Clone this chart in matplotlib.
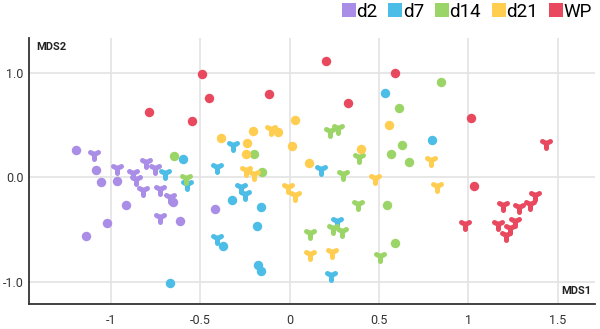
import matplotlib
matplotlib.use("Agg")
import matplotlib.pyplot as plt
from matplotlib.markers import MarkerStyle
from matplotlib.lines import Line2D

plt.rcParams['font.family'] = ['Roboto', 'DejaVu Sans']

groups = ["d2", "d7", "d14", "d21", "WP"]
colors = ["#a98de6", "#4cbde6", "#9cd567", "#ffcd50", "#e8495e"]

# circles (x, y) per group
d2_circ_x = [-1.195, -1.083, -1.055, -0.965, -0.652, -0.915, -0.613, -1.021, -1.139, -0.417]
d2_circ_y = [0.264, 0.072, -0.043, -0.034, -0.235, -0.264, -0.417, -0.436, -0.561, -0.302]
d2_tri_x = [-1.094, -0.965, -0.803, -0.753, -0.876, -0.859, -0.820, -0.725, -0.669, -0.725]
d2_tri_y = [0.225, 0.091, 0.149, 0.091, 0.043, -0.014, -0.120, -0.110, -0.187, -0.379]

d7_circ_x = [-0.596, -0.323, -0.159, -0.180, -0.372, -0.178, -0.161, -0.672, 0.536, 0.797]
d7_circ_y = [0.180, -0.218, -0.286, -0.462, -0.654, -0.842, -0.893, -1.010, 0.813, 0.362]
d7_tri_x = [-0.575, -0.407, -0.314, -0.273, -0.249, -0.404, 0.176, 0.264, 0.232, -0.697]
d7_tri_y = [-0.065, 0.104, 0.314, -0.094, -0.163, -0.583, 0.081, -0.420, -0.932, 0.043]

d14_circ_x = [-0.646, -0.200, -0.152, 0.849, 0.611, 0.631, 0.566, 0.670, 0.547, 0.592]
d14_circ_y = [0.209, 0.222, 0.050, 0.919, 0.663, 0.312, 0.225, 0.146, -0.260, -0.628]
d14_tri_x = [-0.579, 0.228, 0.273, 0.387, 0.299, 0.380, 0.242, 0.294, 0.113, 0.508]
d14_tri_y = [-0.008, 0.446, 0.472, 0.194, 0.031, -0.254, -0.488, -0.513, -0.529, -0.756]

d21_circ_x = [-0.382, -0.204, -0.064, -0.236, -0.245, 0.031, 0.012, 0.109, 0.402, 0.557]
d21_circ_y = [0.376, 0.443, 0.433, 0.334, 0.228, 0.554, 0.302, 0.139, 0.273, 0.506]
d21_tri_x = [-0.105, -0.243, -0.199, -0.007, 0.031, 0.478, 0.792, 0.827, 0.113, 0.238]
d21_tri_y = [0.462, 0.072, 0.034, -0.088, -0.168, -0.002, 0.171, -0.085, -0.733, -0.714]

wp_circ_x = [-0.488, -0.452, -0.544, -0.115, 0.204, 0.327, 0.590, 1.016, 1.034, -0.785]
wp_circ_y = [0.995, 0.765, 0.542, 0.804, 1.114, 0.717, 1.005, 0.573, -0.078, 0.631]
wp_tri_x = [1.435, 1.372, 1.344, 1.286, 1.195, 0.980, 1.167, 1.260, 1.234, 1.210]
wp_tri_y = [0.334, -0.165, -0.254, -0.280, -0.264, -0.443, -0.446, -0.417, -0.484, -0.554]

circ = [(d2_circ_x, d2_circ_y), (d7_circ_x, d7_circ_y), (d14_circ_x, d14_circ_y),
        (d21_circ_x, d21_circ_y), (wp_circ_x, wp_circ_y)]
tri = [(d2_tri_x, d2_tri_y), (d7_tri_x, d7_tri_y), (d14_tri_x, d14_tri_y),
       (d21_tri_x, d21_tri_y), (wp_tri_x, wp_tri_y)]

xticks = [-1, -0.5, 0, 0.5, 1, 1.5]
xticklabels = ["-1", "-0.5", "0", "0.5", "1", "1.5"]
yticks = [-1.0, 0.0, 1.0]
yticklabels = ["-1.0", "0.0", "1.0"]

fig = plt.figure(figsize=(6.0, 3.29), dpi=100)
ax = fig.add_axes([0.049, 0.076, 0.943, 0.808])

tri_marker = MarkerStyle('1', capstyle='round', joinstyle='round')
for i, g in enumerate(groups):
    cx, cy = circ[i]
    tx, ty = tri[i]
    ax.plot(cx, cy, linestyle='none', marker='o', markersize=6.8,
            color=colors[i], markeredgewidth=0, zorder=3)
    ax.plot(tx, ty, linestyle='none', marker=tri_marker, markersize=7.0,
            color=colors[i], markeredgewidth=3.6, zorder=3)

ax.set_xlim(-1.456, 1.71)
ax.set_ylim(-1.213, 1.335)
ax.set_xticks(xticks)
ax.set_xticklabels(xticklabels)
ax.set_yticks(yticks)
ax.set_yticklabels(yticklabels)
ax.tick_params(length=0, labelsize=9, colors='#333333')
ax.tick_params(axis='x', pad=7)
ax.tick_params(axis='y', pad=4)
ax.grid(True, color='#e3e3e3', linewidth=1.2, zorder=0)
ax.set_axisbelow(True)
for s in ['top', 'right']:
    ax.spines[s].set_visible(False)
for s in ['left', 'bottom']:
    ax.spines[s].set_color('#333333')
    ax.spines[s].set_linewidth(1.3)

ax.text(0.012, 0.985, "MDS2", transform=ax.transAxes, fontsize=8,
        fontweight='bold', ha='left', va='top', color='#222222')
ax.text(0.993, 0.03, "MDS1", transform=ax.transAxes, fontsize=8,
        fontweight='bold', ha='right', va='bottom', color='#222222')

handles = [Line2D([0], [0], marker='s', linestyle='none', markersize=10.5,
                  color=c, markeredgewidth=0) for c in colors]
fig.legend(handles, groups, loc='upper right', bbox_to_anchor=(1.005, 1.025),
           ncol=5, frameon=False, fontsize=13.5, handletextpad=0.0,
           columnspacing=0.55, handlelength=0.8, borderaxespad=0.2)

fig.savefig("out.png", dpi=100)
